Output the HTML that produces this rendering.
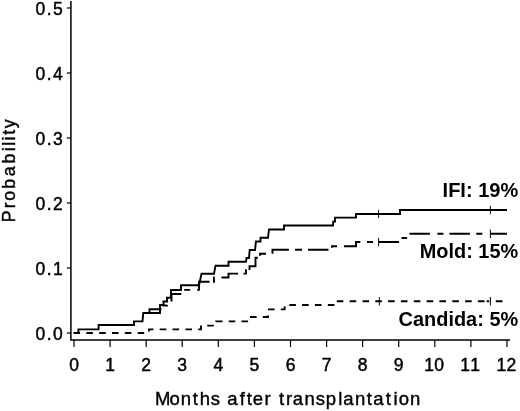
<!DOCTYPE html>
<html lang="en"><head><meta charset="utf-8"><title>Cumulative incidence</title>
<style>html,body{margin:0;padding:0;background:#fff}svg{display:block}</style></head>
<body>
<svg width="520" height="411" viewBox="0 0 520 411">
<rect width="520" height="411" fill="#fff"/>
<g stroke="#000" stroke-width="1.5" fill="none">
<path d="M70.9,1 V340 H510"/>
<path d="M66.8,333 H70.9" stroke-width="1.2"/>
<path d="M66.8,268 H70.9" stroke-width="1.2"/>
<path d="M66.8,203 H70.9" stroke-width="1.2"/>
<path d="M66.8,138 H70.9" stroke-width="1.2"/>
<path d="M66.8,73 H70.9" stroke-width="1.2"/>
<path d="M66.8,8 H70.9" stroke-width="1.2"/>
<path d="M74.0,340 V347" stroke-width="1.2"/>
<path d="M110.1,340 V347" stroke-width="1.2"/>
<path d="M146.2,340 V347" stroke-width="1.2"/>
<path d="M182.2,340 V347" stroke-width="1.2"/>
<path d="M218.3,340 V347" stroke-width="1.2"/>
<path d="M254.4,340 V347" stroke-width="1.2"/>
<path d="M290.5,340 V347" stroke-width="1.2"/>
<path d="M326.6,340 V347" stroke-width="1.2"/>
<path d="M362.6,340 V347" stroke-width="1.2"/>
<path d="M398.7,340 V347" stroke-width="1.2"/>
<path d="M434.8,340 V347" stroke-width="1.2"/>
<path d="M470.9,340 V347" stroke-width="1.2"/>
<path d="M507.0,340 V347" stroke-width="1.2"/>
</g>
<g stroke="#000" stroke-width="1.9" fill="none" stroke-linejoin="miter">
<path d="M74.0,333.0 L78.4,333.0 L78.4,329.4 L98.6,329.4 L98.6,325.0 L134.0,325.0 L134.0,321.4 L142.5,321.4 L143.3,313.0 L149.5,313.0 L149.5,309.3 L160.0,309.3 L160.0,305.0 L163.5,305.0 L163.5,301.5 L167.0,301.5 L167.0,297.8 L171.0,297.8 L171.0,290.0 L181.0,290.0 L181.0,285.2 L199.0,285.2 L201.5,273.8 L214.0,273.8 L215.5,265.7 L228.5,265.7 L228.5,261.8 L246.0,261.8 L246.5,258.0 L249.0,258.0 L249.7,250.0 L255.0,250.0 L256.0,241.5 L260.5,241.5 L260.5,237.8 L268.0,237.8 L269.0,229.5 L284.0,229.5 L284.0,225.5 L333.0,225.5 L333.2,221.6 L335.0,221.6 L335.0,217.6 L356.0,217.6 L356.0,214.0 L400.0,214.0 L400.0,210.0 L507.0,210.0"/>
<path d="M143.3,313.0 L160.0,313.0 L160.0,309.3 L161.5,309.3 M171.5,301.5 L171.5,301.5 L171.5,294.0 L181.4,294.0 M197.2,289.9 L199.0,289.9 L199.0,281.8 L209.6,281.8 M221.5,277.5 L228.5,277.5 L228.5,273.6 L238.1,273.6 M249.5,270.0 L249.5,266.2 L255.5,266.2 L255.5,257.8 L257.8,257.8 M272.5,253.8 L272.5,249.7 L288.9,249.7 M308.0,249.7 L328.5,249.7 M344.0,246.2 L356.0,246.2 L356.0,242.0 L360.3,242.0 M378.6,242.0 L399.1,242.0 M409.4,233.8 L429.9,233.8 M449.4,233.8 L469.9,233.8 M490.8,233.8 L507.0,233.8 M163.5,306.5 L163.5,305.5 L167.0,305.5 L167.0,305.0 M184.2,289.9 L190.2,289.9 M213.0,281.8 L214.0,281.8 L214.0,277.5 L214.7,277.5 M243.5,273.6 L246.0,273.6 L246.0,270.0 L246.4,270.0 M260.0,255.8 L260.0,253.8 L266.0,253.8 M295.0,249.7 L302.0,249.7 M332.0,247.8 L332.0,246.2 L337.0,246.2 M367.0,242.0 L373.0,242.0 M401.6,238.0 L407.1,238.0 M437.4,233.8 L443.4,233.8 M476.3,233.8 L482.3,233.8"/>
<path d="M73.5,333.0 L80.1,333.0 M86.3,333.0 L92.9,333.0 M99.2,333.0 L105.8,333.0 M112.0,333.0 L118.6,333.0 M124.8,333.0 L131.4,333.0 M137.7,333.0 L144.2,333.0 M149.0,331.5 L149.0,329.4 L153.5,329.4 M159.7,329.4 L166.3,329.4 M172.5,329.4 L179.1,329.4 M185.4,329.4 L192.0,329.4 M198.2,329.4 L201.0,329.4 L201.0,325.6 L201.0,325.6 M207.2,325.6 L213.8,325.6 M216.0,321.5 L216.0,321.4 L222.5,321.4 M228.7,321.4 L235.3,321.4 M241.5,321.4 L248.1,321.4 M250.0,317.0 L250.0,317.0 L256.6,317.0 M262.8,317.0 L268.0,317.0 L268.0,315.6 M268.0,309.4 L274.6,309.4 M280.8,309.4 L284.6,309.4 L284.6,306.6 M289.3,305.0 L295.9,305.0 M302.1,305.0 L308.7,305.0 M314.9,305.0 L321.5,305.0 M327.8,305.0 L334.4,305.0 M336.8,301.2 L343.4,301.2 M349.6,301.2 L356.2,301.2 M362.5,301.2 L369.1,301.2 M375.3,301.2 L381.9,301.2 M388.1,301.2 L394.7,301.2 M400.9,301.2 L407.5,301.2 M413.8,301.2 L420.4,301.2 M426.6,301.2 L433.2,301.2 M439.4,301.2 L446.0,301.2 M452.3,301.2 L458.9,301.2 M465.1,301.2 L471.7,301.2 M477.9,301.2 L484.5,301.2 M486.6,301.2 L489.2,301.2 M495.8,301.2 L502.5,301.2"/>
</g>
<g stroke="#000" stroke-width="1" fill="none">
<path d="M378.6,209.8 V218.2"/>
<path d="M490.4,205.8 V214.2"/>
<path d="M378.6,237.8 V246.2"/>
<path d="M490.4,229.60000000000002 V238.0"/>
<path d="M379.3,297.0 V305.4"/>
<path d="M490.4,297.0 V305.4"/>
</g>
<g font-family="'Liberation Sans', Arial, sans-serif" fill="#000">
<g font-size="17.5" stroke="#000" stroke-width="0.45">
<text x="35.6" y="339.7" textLength="27.2" lengthAdjust="spacing">0.0</text>
<text x="35.6" y="274.7" textLength="27.2" lengthAdjust="spacing">0.1</text>
<text x="35.6" y="209.7" textLength="27.2" lengthAdjust="spacing">0.2</text>
<text x="35.6" y="144.7" textLength="27.2" lengthAdjust="spacing">0.3</text>
<text x="35.6" y="79.7" textLength="27.2" lengthAdjust="spacing">0.4</text>
<text x="35.6" y="14.7" textLength="27.2" lengthAdjust="spacing">0.5</text>
<text x="74.0" y="370.6" text-anchor="middle">0</text>
<text x="110.1" y="370.6" text-anchor="middle">1</text>
<text x="146.2" y="370.6" text-anchor="middle">2</text>
<text x="182.2" y="370.6" text-anchor="middle">3</text>
<text x="218.3" y="370.6" text-anchor="middle">4</text>
<text x="254.4" y="370.6" text-anchor="middle">5</text>
<text x="290.5" y="370.6" text-anchor="middle">6</text>
<text x="326.6" y="370.6" text-anchor="middle">7</text>
<text x="362.6" y="370.6" text-anchor="middle">8</text>
<text x="398.7" y="370.6" text-anchor="middle">9</text>
<text x="424.2" y="370.6" textLength="19.8" lengthAdjust="spacing">10</text>
<text x="460.3" y="370.6" textLength="19.8" lengthAdjust="spacing">11</text>
<text x="496.4" y="370.6" textLength="19.8" lengthAdjust="spacing">12</text>
</g>
<g font-size="18.5" stroke="#000" stroke-width="0.4" text-anchor="middle">
<text y="405.3" x="162.8 174.7 185.8 195.2 204.9 215.3 224.0 232.5 242.2 249.4 257.8 267.6 275.0 281.5 289.0 297.9 309.6 320.4 331.0 340.3 348.5 360.1 369.3 378.5 388.2 395.5 404.0 415.2">Months after transplantation</text>
<text transform="rotate(-90)" font-size="17.8" y="14.8" x="-216.2 -205.3 -195.8 -183.7 -171.4 -158.5 -149.3 -143.7 -138.4 -132.3 -123.7">Probability</text>
</g>
<g font-size="19.5" font-weight="bold">
<text x="442.6" y="197" textLength="75.6" lengthAdjust="spacingAndGlyphs">IFI: 19%</text>
<text x="419.8" y="258.2" textLength="98.4" lengthAdjust="spacingAndGlyphs">Mold: 15%</text>
<text x="398.6" y="326.2" textLength="119.6" lengthAdjust="spacingAndGlyphs">Candida: 5%</text>
</g>
</g>
</svg>
</body></html>
